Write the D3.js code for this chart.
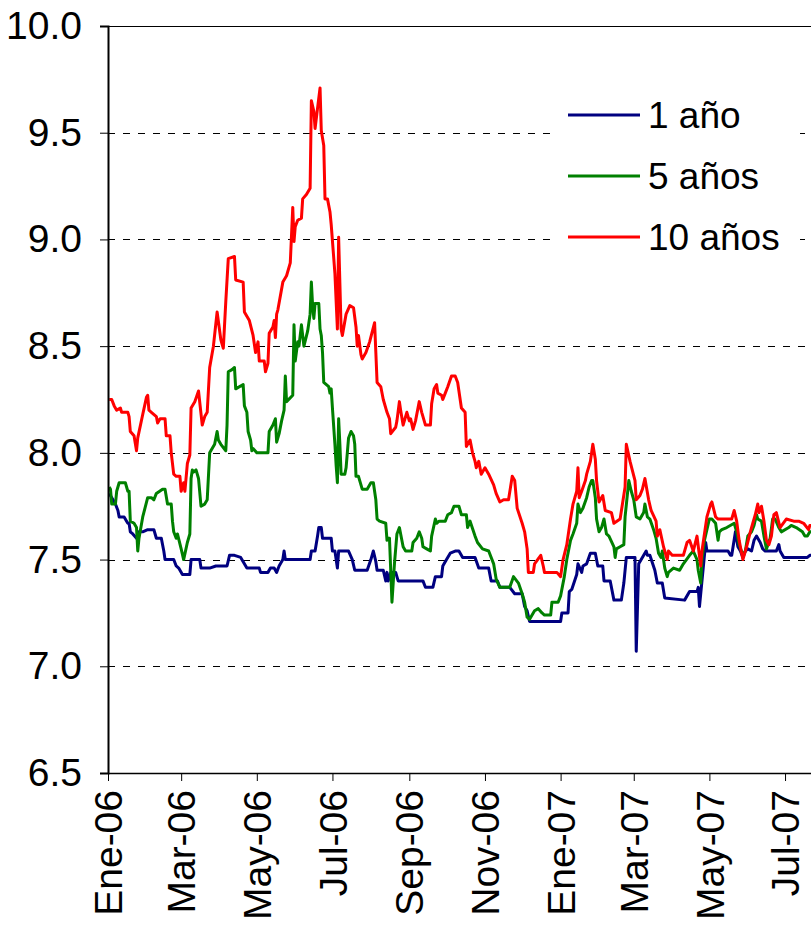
<!DOCTYPE html>
<html>
<head>
<meta charset="utf-8">
<script src="https://cdn.jsdelivr.net/npm/d3@7"></script>
<style>
  body { margin: 0; background: #fff; }
  svg { display: block; }
  text { font-family: "Liberation Sans", Arial, sans-serif; fill: #000; }
</style>
</head>
<body>
<svg id="chart" width="811" height="925"></svg>
<script>
// Tasas por plazo (%), observaciones [fecha, valor]
const oneYear = [
  ["2006-01-02",7.81],["2006-01-05",7.78],["2006-01-07",7.76],["2006-01-09",7.73],["2006-01-10",7.70],
  ["2006-01-14",7.70],["2006-01-16",7.68],["2006-01-17",7.67],["2006-01-18",7.67],["2006-01-19",7.63],
  ["2006-01-21",7.62],["2006-01-24",7.60],["2006-01-26",7.63],["2006-01-29",7.63],["2006-02-02",7.64],
  ["2006-02-07",7.64],["2006-02-08",7.62],["2006-02-09",7.60],["2006-02-13",7.60],["2006-02-15",7.54],
  ["2006-02-16",7.50],["2006-02-23",7.50],["2006-02-25",7.47],["2006-02-27",7.46],["2006-03-02",7.43],
  ["2006-03-08",7.43],["2006-03-09",7.50],["2006-03-16",7.50],["2006-03-17",7.46],["2006-03-24",7.46],
  ["2006-03-29",7.47],["2006-04-07",7.47],["2006-04-09",7.52],["2006-04-13",7.52],["2006-04-18",7.51],
  ["2006-04-23",7.46],["2006-05-03",7.46],["2006-05-04",7.44],["2006-05-10",7.44],["2006-05-12",7.46],
  ["2006-05-15",7.46],["2006-05-17",7.44],["2006-05-19",7.47],["2006-05-22",7.50],["2006-05-23",7.54],
  ["2006-05-24",7.50],["2006-06-13",7.50],["2006-06-14",7.54],["2006-06-17",7.54],["2006-06-19",7.61],
  ["2006-06-20",7.65],["2006-06-22",7.65],["2006-06-23",7.60],["2006-06-30",7.60],["2006-07-01",7.54],
  ["2006-07-03",7.54],["2006-07-05",7.46],["2006-07-06",7.54],["2006-07-14",7.54],["2006-07-17",7.50],
  ["2006-07-19",7.45],["2006-07-29",7.45],["2006-08-01",7.50],["2006-08-03",7.54],["2006-08-05",7.49],
  ["2006-08-06",7.45],["2006-08-11",7.45],["2006-08-13",7.40],["2006-08-14",7.44],["2006-08-15",7.40],
  ["2006-08-17",7.44],["2006-08-21",7.44],["2006-08-23",7.40],["2006-09-12",7.40],["2006-09-14",7.37],
  ["2006-09-20",7.37],["2006-09-22",7.42],["2006-09-27",7.42],["2006-09-28",7.47],["2006-10-01",7.50],
  ["2006-10-04",7.53],["2006-10-08",7.54],["2006-10-11",7.54],["2006-10-14",7.51],["2006-10-24",7.51],
  ["2006-10-27",7.46],["2006-11-04",7.46],["2006-11-06",7.40],["2006-11-11",7.40],["2006-11-13",7.37],
  ["2006-11-21",7.37],["2006-11-25",7.34],["2006-12-01",7.34],["2006-12-03",7.28],["2006-12-05",7.26],
  ["2006-12-07",7.21],["2007-01-01",7.21],["2007-01-02",7.25],["2007-01-07",7.25],["2007-01-08",7.35],
  ["2007-01-10",7.36],["2007-01-14",7.43],["2007-01-15",7.48],["2007-01-18",7.44],["2007-01-19",7.47],
  ["2007-01-22",7.48],["2007-01-25",7.53],["2007-01-29",7.53],["2007-01-31",7.47],["2007-02-04",7.47],
  ["2007-02-05",7.40],["2007-02-10",7.40],["2007-02-13",7.31],["2007-02-19",7.31],["2007-02-21",7.39],
  ["2007-02-23",7.51],["2007-03-02",7.51],["2007-03-03",7.07],["2007-03-05",7.48],["2007-03-09",7.52],
  ["2007-03-11",7.54],["2007-03-12",7.52],["2007-03-14",7.52],["2007-03-18",7.45],["2007-03-20",7.39],
  ["2007-03-24",7.39],["2007-03-26",7.32],["2007-04-11",7.31],["2007-04-15",7.35],["2007-04-21",7.35],
  ["2007-04-22",7.37],["2007-04-23",7.28],["2007-04-28",7.58],["2007-04-29",7.54],["2007-05-04",7.54],
  ["2007-05-16",7.54],["2007-05-18",7.52],["2007-05-19",7.52],["2007-05-22",7.63],["2007-05-24",7.56],
  ["2007-05-26",7.54],["2007-05-28",7.51],["2007-05-30",7.54],["2007-06-01",7.55],["2007-06-04",7.54],
  ["2007-06-06",7.59],["2007-06-08",7.61],["2007-06-11",7.58],["2007-06-13",7.55],["2007-06-15",7.54],
  ["2007-06-24",7.54],["2007-06-26",7.57],["2007-06-27",7.54],["2007-06-30",7.51],["2007-07-19",7.51],
  ["2007-07-21",7.52],["2007-07-25",7.52]
];

const fiveYears = [
  ["2006-01-02",7.84],["2006-01-03",7.83],["2006-01-04",7.76],["2006-01-07",7.76],["2006-01-08",7.82],
  ["2006-01-10",7.86],["2006-01-15",7.86],["2006-01-17",7.82],["2006-01-18",7.82],["2006-01-19",7.68],
  ["2006-01-22",7.67],["2006-01-24",7.65],["2006-01-25",7.54],["2006-01-26",7.60],["2006-01-29",7.70],
  ["2006-02-02",7.79],["2006-02-05",7.79],["2006-02-07",7.78],["2006-02-09",7.81],["2006-02-14",7.83],
  ["2006-02-16",7.83],["2006-02-18",7.76],["2006-02-21",7.76],["2006-02-22",7.68],["2006-02-23",7.63],
  ["2006-02-25",7.60],["2006-02-26",7.62],["2006-03-01",7.55],["2006-03-03",7.50],["2006-03-06",7.58],
  ["2006-03-08",7.62],["2006-03-09",7.88],["2006-03-10",7.92],["2006-03-11",7.91],["2006-03-13",7.92],
  ["2006-03-15",7.88],["2006-03-17",7.75],["2006-03-20",7.76],["2006-03-22",7.78],["2006-03-24",8.00],
  ["2006-03-28",8.04],["2006-03-30",8.10],["2006-03-31",8.06],["2006-04-02",8.04],["2006-04-06",8.01],
  ["2006-04-07",8.13],["2006-04-08",8.38],["2006-04-11",8.39],["2006-04-13",8.40],["2006-04-14",8.30],
  ["2006-04-20",8.32],["2006-04-21",8.22],["2006-04-23",8.19],["2006-04-24",8.10],["2006-04-26",8.06],
  ["2006-04-27",8.01],["2006-04-28",8.02],["2006-05-01",8.00],["2006-05-10",8.00],["2006-05-11",8.10],
  ["2006-05-14",8.13],["2006-05-16",8.16],["2006-05-17",8.05],["2006-05-19",8.09],["2006-05-21",8.15],
  ["2006-05-23",8.20],["2006-05-24",8.36],["2006-05-25",8.24],["2006-05-30",8.27],["2006-05-31",8.60],
  ["2006-06-01",8.43],["2006-06-03",8.52],["2006-06-04",8.50],["2006-06-06",8.60],["2006-06-08",8.50],
  ["2006-06-11",8.57],["2006-06-13",8.65],["2006-06-14",8.80],["2006-06-15",8.69],["2006-06-16",8.63],
  ["2006-06-17",8.70],["2006-06-20",8.70],["2006-06-21",8.58],["2006-06-22",8.55],["2006-06-23",8.47],
  ["2006-06-24",8.33],["2006-06-28",8.31],["2006-06-29",8.28],["2006-06-30",8.30],["2006-07-01",8.21],
  ["2006-07-03",8.04],["2006-07-04",7.94],["2006-07-05",7.86],["2006-07-06",8.16],["2006-07-07",8.04],
  ["2006-07-08",7.90],["2006-07-11",7.90],["2006-07-12",7.93],["2006-07-14",8.07],["2006-07-16",8.10],
  ["2006-07-18",8.08],["2006-07-19",8.04],["2006-07-20",7.89],["2006-07-22",7.89],["2006-07-25",7.83],
  ["2006-07-29",7.83],["2006-08-01",7.86],["2006-08-03",7.86],["2006-08-05",7.78],["2006-08-06",7.69],
  ["2006-08-08",7.68],["2006-08-13",7.67],["2006-08-14",7.59],["2006-08-15",7.60],["2006-08-16",7.60],
  ["2006-08-18",7.30],["2006-08-20",7.48],["2006-08-22",7.62],["2006-08-24",7.65],["2006-08-27",7.56],
  ["2006-08-29",7.54],["2006-09-03",7.54],["2006-09-04",7.58],["2006-09-07",7.60],["2006-09-09",7.63],
  ["2006-09-11",7.60],["2006-09-12",7.56],["2006-09-15",7.55],["2006-09-18",7.54],["2006-09-19",7.61],
  ["2006-09-22",7.69],["2006-09-23",7.67],["2006-09-25",7.68],["2006-09-30",7.68],["2006-10-02",7.71],
  ["2006-10-05",7.72],["2006-10-07",7.75],["2006-10-11",7.75],["2006-10-13",7.71],["2006-10-17",7.71],
  ["2006-10-18",7.65],["2006-10-20",7.68],["2006-10-24",7.61],["2006-10-26",7.58],["2006-10-30",7.55],
  ["2006-11-04",7.54],["2006-11-08",7.48],["2006-11-10",7.41],["2006-11-13",7.37],["2006-11-21",7.37],
  ["2006-11-24",7.42],["2006-11-28",7.39],["2006-12-01",7.34],["2006-12-03",7.30],["2006-12-05",7.23],
  ["2006-12-07",7.22],["2006-12-11",7.26],["2006-12-14",7.27],["2006-12-17",7.25],["2006-12-19",7.24],
  ["2006-12-24",7.24],["2006-12-25",7.30],["2006-12-30",7.30],["2007-01-01",7.33],["2007-01-04",7.42],
  ["2007-01-06",7.50],["2007-01-09",7.59],["2007-01-11",7.62],["2007-01-14",7.67],["2007-01-15",7.76],
  ["2007-01-17",7.72],["2007-01-19",7.74],["2007-01-22",7.79],["2007-01-24",7.84],["2007-01-26",7.87],
  ["2007-01-27",7.87],["2007-01-29",7.79],["2007-01-30",7.69],["2007-02-01",7.63],["2007-02-03",7.65],
  ["2007-02-05",7.69],["2007-02-07",7.62],["2007-02-09",7.61],["2007-02-13",7.56],["2007-02-14",7.51],
  ["2007-02-15",7.55],["2007-02-18",7.56],["2007-02-21",7.57],["2007-02-22",7.70],["2007-02-25",7.87],
  ["2007-02-27",7.82],["2007-03-01",7.78],["2007-03-03",7.70],["2007-03-06",7.69],["2007-03-09",7.72],
  ["2007-03-10",7.76],["2007-03-12",7.70],["2007-03-14",7.69],["2007-03-17",7.64],["2007-03-19",7.60],
  ["2007-03-21",7.53],["2007-03-23",7.51],["2007-03-24",7.54],["2007-03-26",7.46],["2007-03-28",7.42],
  ["2007-03-29",7.44],["2007-04-02",7.46],["2007-04-07",7.45],["2007-04-10",7.48],["2007-04-15",7.52],
  ["2007-04-18",7.54],["2007-04-21",7.50],["2007-04-22",7.45],["2007-04-24",7.39],["2007-04-25",7.50],
  ["2007-04-27",7.59],["2007-04-29",7.64],["2007-05-01",7.69],["2007-05-03",7.69],["2007-05-06",7.67],
  ["2007-05-08",7.59],["2007-05-09",7.63],["2007-05-11",7.64],["2007-05-15",7.65],["2007-05-21",7.67],
  ["2007-05-23",7.63],["2007-05-25",7.57],["2007-05-28",7.52],["2007-05-30",7.54],["2007-06-01",7.61],
  ["2007-06-04",7.63],["2007-06-06",7.66],["2007-06-08",7.71],["2007-06-09",7.69],["2007-06-12",7.68],
  ["2007-06-14",7.61],["2007-06-16",7.55],["2007-06-19",7.60],["2007-06-21",7.69],["2007-06-23",7.69],
  ["2007-06-26",7.65],["2007-06-28",7.63],["2007-07-04",7.65],["2007-07-06",7.66],["2007-07-10",7.65],
  ["2007-07-15",7.63],["2007-07-17",7.61],["2007-07-19",7.61],["2007-07-21",7.63],["2007-07-25",7.63]
];

const tenYears = [
  ["2006-01-02",8.25],["2006-01-04",8.25],["2006-01-06",8.22],["2006-01-08",8.20],["2006-01-11",8.21],
  ["2006-01-12",8.19],["2006-01-17",8.19],["2006-01-18",8.17],["2006-01-19",8.10],["2006-01-22",8.08],
  ["2006-01-24",8.01],["2006-01-25",8.07],["2006-01-29",8.18],["2006-02-01",8.26],["2006-02-02",8.27],
  ["2006-02-03",8.20],["2006-02-05",8.19],["2006-02-09",8.17],["2006-02-10",8.14],["2006-02-12",8.16],
  ["2006-02-16",8.16],["2006-02-17",8.08],["2006-02-20",8.08],["2006-02-21",8.00],["2006-02-23",7.90],
  ["2006-02-25",7.89],["2006-02-28",7.89],["2006-03-01",7.82],["2006-03-03",7.86],["2006-03-04",7.82],
  ["2006-03-06",7.95],["2006-03-08",7.99],["2006-03-09",8.21],["2006-03-12",8.24],["2006-03-15",8.29],
  ["2006-03-18",8.13],["2006-03-20",8.17],["2006-03-22",8.19],["2006-03-24",8.40],["2006-03-27",8.50],
  ["2006-03-30",8.66],["2006-04-02",8.53],["2006-04-04",8.49],["2006-04-06",8.71],["2006-04-08",8.91],
  ["2006-04-13",8.92],["2006-04-14",8.81],["2006-04-20",8.80],["2006-04-21",8.66],["2006-04-25",8.62],
  ["2006-04-28",8.55],["2006-04-30",8.47],["2006-05-02",8.52],["2006-05-03",8.43],["2006-05-07",8.43],
  ["2006-05-08",8.38],["2006-05-10",8.42],["2006-05-11",8.56],["2006-05-14",8.59],["2006-05-15",8.62],
  ["2006-05-16",8.54],["2006-05-17",8.65],["2006-05-18",8.67],["2006-05-22",8.80],["2006-05-25",8.83],
  ["2006-05-28",8.89],["2006-05-30",9.15],["2006-05-31",8.99],["2006-06-01",9.06],["2006-06-03",9.09],
  ["2006-06-06",9.10],["2006-06-07",9.19],["2006-06-10",9.21],["2006-06-13",9.24],["2006-06-14",9.65],
  ["2006-06-16",9.60],["2006-06-17",9.52],["2006-06-21",9.71],["2006-06-22",9.51],["2006-06-24",9.44],
  ["2006-06-25",9.19],["2006-06-27",9.19],["2006-06-29",9.13],["2006-06-30",9.07],["2006-07-03",8.84],
  ["2006-07-05",8.58],["2006-07-06",9.01],["2006-07-08",8.58],["2006-07-09",8.55],["2006-07-12",8.65],
  ["2006-07-15",8.69],["2006-07-18",8.68],["2006-07-20",8.59],["2006-07-21",8.50],["2006-07-22",8.55],
  ["2006-07-24",8.46],["2006-07-25",8.44],["2006-07-28",8.47],["2006-07-31",8.52],["2006-08-04",8.61],
  ["2006-08-05",8.47],["2006-08-06",8.33],["2006-08-09",8.31],["2006-08-11",8.25],["2006-08-14",8.19],
  ["2006-08-16",8.16],["2006-08-17",8.09],["2006-08-21",8.12],["2006-08-22",8.15],["2006-08-24",8.24],
  ["2006-08-25",8.20],["2006-08-27",8.13],["2006-08-29",8.17],["2006-08-30",8.19],["2006-09-01",8.15],
  ["2006-09-02",8.16],["2006-09-04",8.11],["2006-09-06",8.15],["2006-09-09",8.24],["2006-09-11",8.19],
  ["2006-09-14",8.13],["2006-09-18",8.13],["2006-09-19",8.23],["2006-09-21",8.30],["2006-09-23",8.32],
  ["2006-09-24",8.28],["2006-09-27",8.27],["2006-09-28",8.25],["2006-09-30",8.28],["2006-10-02",8.31],
  ["2006-10-05",8.36],["2006-10-08",8.36],["2006-10-10",8.33],["2006-10-13",8.21],["2006-10-16",8.19],
  ["2006-10-17",8.03],["2006-10-20",8.06],["2006-10-22",8.00],["2006-10-24",7.96],["2006-10-25",7.93],
  ["2006-10-27",7.96],["2006-10-29",7.90],["2006-11-01",7.93],["2006-11-04",7.90],["2006-11-08",7.85],
  ["2006-11-10",7.81],["2006-11-13",7.77],["2006-11-16",7.78],["2006-11-20",7.78],["2006-11-23",7.89],
  ["2006-11-25",7.87],["2006-11-27",7.74],["2006-12-01",7.67],["2006-12-03",7.63],["2006-12-05",7.55],
  ["2006-12-06",7.44],["2006-12-10",7.44],["2006-12-11",7.48],["2006-12-16",7.52],["2006-12-18",7.47],
  ["2006-12-19",7.44],["2006-12-29",7.44],["2007-01-01",7.42],["2007-01-03",7.50],["2007-01-06",7.57],
  ["2007-01-09",7.69],["2007-01-11",7.76],["2007-01-14",7.82],["2007-01-15",7.93],["2007-01-16",7.79],
  ["2007-01-18",7.82],["2007-01-21",7.87],["2007-01-22",7.90],["2007-01-25",7.96],["2007-01-27",8.04],
  ["2007-01-29",7.97],["2007-01-30",7.87],["2007-02-01",7.77],["2007-02-04",7.80],["2007-02-06",7.73],
  ["2007-02-11",7.72],["2007-02-13",7.67],["2007-02-18",7.69],["2007-02-22",7.84],["2007-02-23",8.04],
  ["2007-02-26",7.96],["2007-03-02",7.87],["2007-03-03",7.78],["2007-03-06",7.80],["2007-03-08",7.83],
  ["2007-03-10",7.88],["2007-03-13",7.78],["2007-03-15",7.73],["2007-03-19",7.68],["2007-03-20",7.61],
  ["2007-03-22",7.64],["2007-03-25",7.56],["2007-03-28",7.50],["2007-03-29",7.54],["2007-04-01",7.52],
  ["2007-04-05",7.52],["2007-04-10",7.52],["2007-04-13",7.58],["2007-04-15",7.59],["2007-04-18",7.54],
  ["2007-04-21",7.61],["2007-04-24",7.47],["2007-04-25",7.54],["2007-04-29",7.70],["2007-05-02",7.76],
  ["2007-05-03",7.77],["2007-05-06",7.70],["2007-05-08",7.69],["2007-05-12",7.69],["2007-05-16",7.69],
  ["2007-05-19",7.69],["2007-05-21",7.73],["2007-05-23",7.68],["2007-05-25",7.59],["2007-05-27",7.53],
  ["2007-05-28",7.50],["2007-05-31",7.56],["2007-06-03",7.63],["2007-06-05",7.67],["2007-06-07",7.71],
  ["2007-06-09",7.76],["2007-06-10",7.72],["2007-06-12",7.75],["2007-06-14",7.68],["2007-06-16",7.59],
  ["2007-06-18",7.57],["2007-06-20",7.61],["2007-06-22",7.71],["2007-06-24",7.72],["2007-06-27",7.65],
  ["2007-07-02",7.69],["2007-07-08",7.68],["2007-07-12",7.68],["2007-07-16",7.67],["2007-07-20",7.64],
  ["2007-07-21",7.66],["2007-07-25",7.66]
];

const seriesNames  = ["1 año", "5 años", "10 años"];
const seriesColors = ["#000080", "#008000", "#ff0000"];
const monthNames   = ["Ene","Feb","Mar","Abr","May","Jun","Jul","Ago","Sep","Oct","Nov","Dic"];
const yTicks       = [6.5, 7.0, 7.5, 8.0, 8.5, 9.0, 9.5, 10.0];

const svg = d3.select("#chart");
const W = 811;
const plotLeft = 108, plotTop = 26, plotBottom = 773;
const parse = d3.timeParse("%Y-%m-%d");

const x = d3.scaleTime()
  .domain([new Date(2006, 0, 1), new Date(2007, 6, 31)])
  .range([plotLeft, plotLeft + 576 * 1.24]);
const y = d3.scaleLinear().domain([6.5, 10]).range([plotBottom, plotTop]);

// clip region for the plot
svg.append("defs").append("clipPath").attr("id", "plot-clip")
  .append("rect").attr("x", plotLeft).attr("y", plotTop - 5)
  .attr("width", W - plotLeft).attr("height", plotBottom - plotTop + 5);

// horizontal dashed gridlines
svg.append("g").selectAll("line")
  .data(yTicks.filter(v => v > 6.5 && v < 10))
  .join("line")
  .attr("x1", plotLeft).attr("x2", W)
  .attr("y1", d => Math.round(y(d)) + 0.5).attr("y2", d => Math.round(y(d)) + 0.5)
  .attr("stroke", "#000").attr("stroke-width", 1)
  .attr("stroke-dasharray", "7,8");

// top border of the plot area
svg.append("line")
  .attr("x1", plotLeft).attr("x2", W)
  .attr("y1", Math.round(y(10)) + 0.5).attr("y2", Math.round(y(10)) + 0.5)
  .attr("stroke", "#000").attr("stroke-width", 1.2);

// legend background
svg.append("rect").attr("x", 556).attr("y", 82).attr("width", 244).attr("height", 180).attr("fill", "#fff");

// series lines
const line = d3.line()
  .x(d => x(parse(d[0])))
  .y(d => y(d[1]));

const allSeries = [oneYear, fiveYears, tenYears];
svg.append("g").attr("clip-path", "url(#plot-clip)")
  .selectAll("path")
  .data(allSeries)
  .join("path")
  .attr("d", line)
  .attr("fill", "none")
  .attr("stroke", (d, i) => seriesColors[i])
  .attr("stroke-width", 3)
  .attr("stroke-linejoin", "round");

// legend
const legend = svg.append("g");
seriesNames.forEach((name, i) => {
  const ly = 115 + i * 61;
  legend.append("line")
    .attr("x1", 568).attr("x2", 640).attr("y1", ly).attr("y2", ly)
    .attr("stroke", seriesColors[i]).attr("stroke-width", 3);
  legend.append("text")
    .attr("x", 648).attr("y", ly).attr("dy", "0.35em")
    .style("font-size", "37px")
    .text(name);
});

// y axis
const yAxis = d3.axisLeft(y).tickValues(yTicks).tickFormat(d3.format(".1f")).tickSize(8).tickPadding(18);
const gy = svg.append("g").attr("transform", `translate(${plotLeft},0)`).call(yAxis);
gy.select(".domain").attr("stroke", "#000").attr("stroke-width", 2);
gy.selectAll(".tick line").attr("stroke", "#000");
gy.selectAll(".tick text").style("font-size", "39px").attr("font-family", null);

// x axis
const xTicks = d3.timeMonth.every(2).range(new Date(2006, 0, 1), new Date(2007, 7, 1));
const fmtX = d => monthNames[d.getMonth()] + "-" + String(d.getFullYear()).slice(2);
const xAxis = d3.axisBottom(x).tickValues(xTicks).tickFormat(fmtX).tickSize(8).tickSizeOuter(0);
const gx = svg.append("g").attr("transform", `translate(0,${plotBottom})`).call(xAxis);
gx.select(".domain").attr("stroke", "#000").attr("stroke-width", 1.5);
gx.selectAll(".tick line").attr("stroke", "#000");
gx.selectAll(".tick text")
  .style("font-size", "39px").attr("font-family", null)
  .attr("text-anchor", "end")
  .attr("transform", "rotate(-90)")
  .attr("x", -17).attr("y", 0).attr("dy", "0.35em");
</script>
</body>
</html>
